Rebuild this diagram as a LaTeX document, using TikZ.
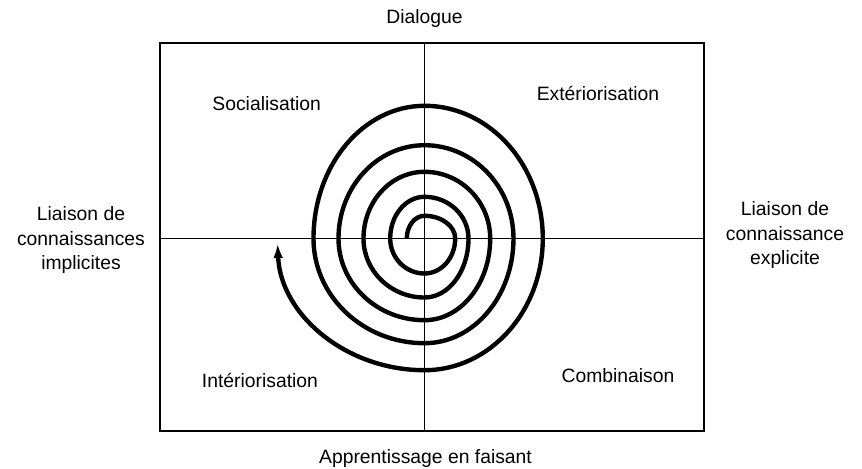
\documentclass[tikz,border=0pt]{standalone}
\usepackage{fontspec}
\setmainfont{Liberation Sans}
\usetikzlibrary{arrows.meta,positioning}

\begin{document}
\begin{tikzpicture}[x=0.02cm,y=0.02cm,>=Latex,
  lbl/.style={align=center,inner sep=0pt,font=\fontsize{11pt}{14.2pt}\selectfont},
  axe/.style={line width=1pt},
  spiral/.style={line width=2.5pt}]
\useasboundingbox (-424.5,-229.5) rectangle (437.5,238.5);
\coordinate (c) at (0,0);
\node[draw,line width=1.4pt,minimum width=10.88cm,minimum height=7.76cm,inner sep=0pt] (frame) at (7.5,1.5) {};
\draw[axe] (frame.north -| c) -- (frame.south -| c);
\draw[axe] (frame.west |- c) -- (frame.east |- c);
% axes labels
\node[lbl] (dia) at (0,220) {Dialogue};
\node[lbl] (app) at (1,-219.5) {Apprentissage en faisant};
\node[lbl] (impl) at (-343.5,-1.5) {Liaison de\\connaissances\\implicites};
\node[lbl] (expl) at (360.5,3.5) {Liaison de\\connaissance\\explicite};
% quadrants
\node[lbl] (soc) at (-157.8,135.2) {Socialisation};
\node[lbl] (ext) at (173.5,145.5) {Extériorisation};
\node[lbl] (inte) at (-164.5,-141.5) {Intériorisation};
\node[lbl] (comb) at (193.5,-137.5) {Combinaison};
% spiral, quarter by quarter
\draw[spiral,-{Latex[length=8.5pt,width=5.5pt]}] (-17.7,0)
  foreach \sa/\rx/\ry in {180/17.7/22.7, 90/30.7/22.7, 0/30.7/35, -90/34.3/35,
    180/34.3/41.7, 90/44/41.7, 0/44/59, -90/61/59,
    180/61/66.7, 90/65.7/66.7, 0/65.7/81.7, -90/86/81.7,
    180/86/93.3, 90/89/93.3, 0/89/104.7, -90/111/104.7,
    180/111/132.7, 90/118.3/132.7, 0/118.3/131.7}
  { arc[start angle=\sa,delta angle=-90,x radius=\rx,y radius=\ry] }
  arc[start angle=-90,delta angle=-88,x radius=147,y radius=131.7];
\end{tikzpicture}
\end{document}
